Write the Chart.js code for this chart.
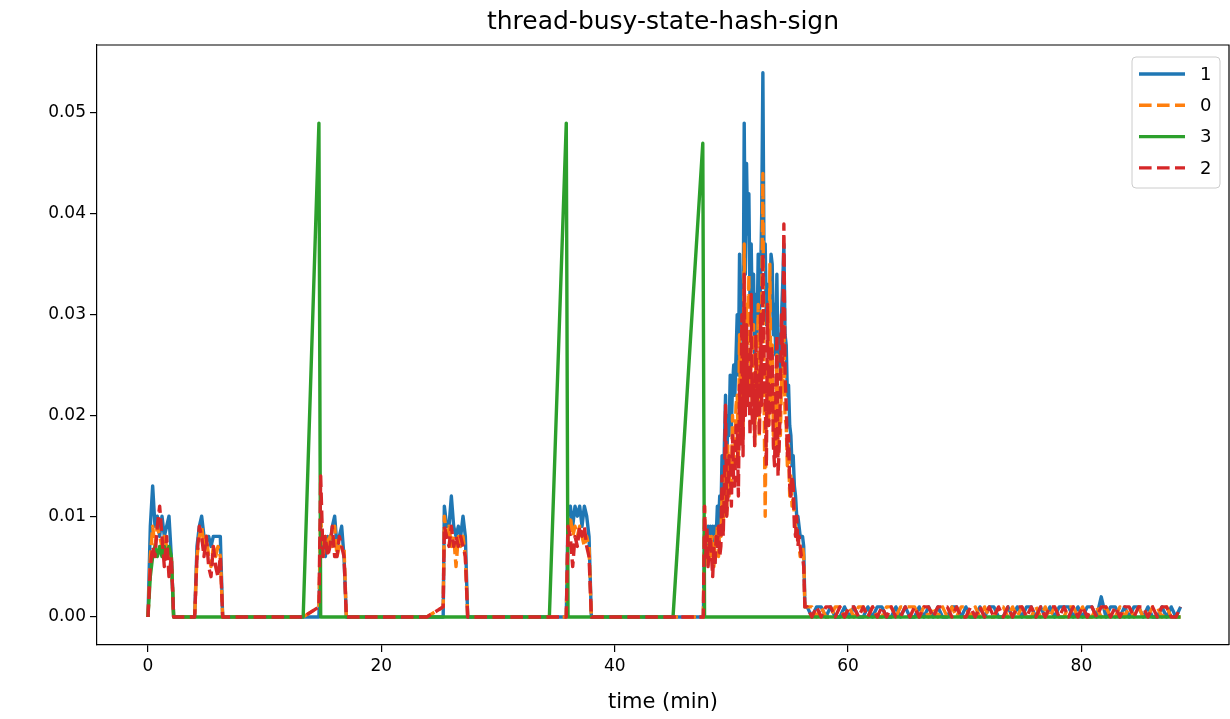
<!DOCTYPE html>
<html lang="en">
<head>
  <meta charset="UTF-8">
  <title>thread-busy-state-hash-sign</title>
  <style>
    html, body { margin: 0; padding: 0; background: #fff; }
    #chart { display: block; }
  </style>
</head>
<body>
  <canvas id="chart" width="1230" height="719"></canvas>

  <script src="https://cdn.jsdelivr.net/npm/chart.js@4"></script>
  <script>
    // busy share per thread, stored in thousandths (plotted as value / 1000)
    const timeMin = [
      0, 0.2, 0.4, 0.6, 0.8, 1.0, 1.2, 1.4, 1.6, 1.8, 2.0, 2.2,
      4.0, 4.2, 4.4, 4.6, 4.8, 5.0, 5.2, 5.4, 5.6, 5.8, 6.0, 6.2, 6.4,
      13.3, 14.65, 14.8, 15.0, 15.2, 15.4, 15.6, 15.8, 16.0, 16.2, 16.4, 16.6, 16.8, 17.0,
      23.9, 25.3, 25.4, 25.6, 25.8, 26.0, 26.2, 26.4, 26.6, 26.8, 27.0, 27.2, 27.4,
      35.85, 36.0, 36.2, 36.4, 36.6, 36.8, 37.0, 37.2, 37.4, 37.6, 37.8, 38.0,
      47.6,
      47.7, 47.8, 47.9, 48.0, 48.1, 48.2, 48.3, 48.4, 48.5, 48.6,
      48.7, 48.8, 48.9, 49.0, 49.1, 49.2, 49.3, 49.4, 49.5, 49.6,
      49.7, 49.8, 49.9, 50.0, 50.1, 50.2, 50.3, 50.4, 50.5, 50.6,
      50.7, 50.8, 50.9, 51.0, 51.1, 51.2, 51.3, 51.4, 51.5, 51.6,
      51.7, 51.8, 51.9, 52.0, 52.1, 52.2, 52.3, 52.4, 52.5, 52.6,
      52.7, 52.8, 52.9, 53.0, 53.1, 53.2, 53.3, 53.4, 53.5, 53.6,
      53.7, 53.8, 53.9, 54.0, 54.1, 54.2, 54.3, 54.4, 54.5, 54.6,
      54.7, 54.8, 54.9, 55.0, 55.1, 55.2, 55.3, 55.4, 55.5, 55.6,
      55.7, 55.8, 55.9, 56.0, 56.1, 56.2, 56.3,
      56.5, 56.9, 57.3, 57.7, 58.1, 58.5, 58.9, 59.3, 59.7, 60.1,
      60.5, 60.9, 61.3, 61.7, 62.1, 62.5, 62.9, 63.3, 63.7, 64.1,
      64.5, 64.9, 65.3, 65.7, 66.1, 66.5, 66.9, 67.3, 67.7, 68.1,
      68.5, 68.9, 69.3, 69.7, 70.1, 70.5, 70.9, 71.3, 71.7, 72.1,
      72.5, 72.9, 73.3, 73.7, 74.1, 74.5, 74.9, 75.3, 75.7, 76.1,
      76.5, 76.9, 77.3, 77.7, 78.1, 78.5, 78.9, 79.3, 79.7, 80.1,
      80.5, 80.9, 81.3, 81.7, 82.1, 82.5, 82.9, 83.3, 83.7, 84.1,
      84.5, 84.9, 85.3, 85.7, 86.1, 86.5, 86.9, 87.3, 87.7, 88.1,
      88.5
    ];

    const thread1 = [
      0, 9, 13, 9, 10, 8, 10, 8, 9, 10, 6, 0,
      0, 7, 9, 10, 8, 8, 8, 7, 8, 8, 8, 8, 0,
      0, 0, 8, 7, 6, 8, 7, 9, 10, 7, 8, 9, 6, 0,
      0, 0, 11, 9, 9, 12, 9, 8, 9, 8, 10, 8, 0,
      0, 10, 11, 9, 11, 10, 11, 9, 11, 10, 8, 0,
      0,
      9, 7, 8, 9, 7, 9, 8, 9, 7, 9,
      8, 11, 9, 12, 10, 16, 11, 17, 22, 15,
      20, 18, 24, 19, 23, 25, 22, 26, 30, 24,
      36, 29, 33, 27, 49, 34, 45, 38, 42, 31,
      37, 29, 34, 26, 32, 28, 36, 30, 33, 40,
      54, 35, 37, 29, 33, 27, 32, 36, 35, 28,
      31, 26, 34, 25, 28, 24, 30, 33, 37, 28,
      27, 22, 23, 19, 18, 15, 16, 13, 12, 10,
      10, 9, 8, 8, 8, 7, 1,
      1, 0, 1, 1, 0, 1, 0, 0, 1, 0,
      1, 0, 0, 1, 0, 1, 1, 0, 0, 1,
      0, 1, 0, 0, 1, 0, 1, 0, 1, 0,
      0, 1, 1, 0, 1, 0, 0, 1, 0, 1,
      1, 0, 0, 1, 0, 1, 0, 1, 1, 0,
      1, 0, 1, 0, 1, 1, 1, 0, 1, 0,
      1, 1, 0, 2, 0, 1, 1, 0, 1, 0,
      1, 1, 0, 1, 0, 0, 1, 0, 1, 0,
      1
    ];

    const thread0 = [
      0, 6, 9, 7, 9, 8, 7, 8, 7, 6, 6, 0,
      0, 6, 8, 9, 7, 8, 6, 5, 7, 6, 7, 6, 0,
      0, 1, 10, 6, 8, 7, 8, 7, 9, 6, 7, 7, 7, 0,
      0, 1, 10, 8, 9, 7, 8, 5, 8, 7, 8, 6, 0,
      0, 9, 10, 8, 9, 8, 9, 8, 7, 8, 7, 0,
      0,
      11, 6, 7, 5, 8, 6, 8, 7, 5, 8,
      7, 9, 6, 9, 8, 12, 9, 13, 15, 10,
      17, 12, 16, 13, 20, 15, 17, 21, 22, 16,
      28, 19, 26, 18, 37, 23, 31, 25, 34, 22,
      27, 20, 29, 17, 25, 21, 31, 18, 27, 30,
      44, 22, 10, 24, 25, 19, 35, 21, 27, 18,
      22, 17, 26, 16, 20, 18, 24, 22, 29, 20,
      19, 15, 17, 12, 14, 11, 12, 10, 9, 8,
      8, 7, 6, 7, 7, 6, 1,
      1, 1, 0, 1, 0, 0, 1, 1, 0, 1,
      0, 1, 1, 0, 1, 0, 0, 1, 1, 0,
      1, 1, 1, 1, 0, 1, 0, 1, 0, 1,
      0, 1, 0, 1, 1, 0, 1, 0, 1, 0,
      0, 1, 1, 0, 1, 0, 1, 0, 0, 1,
      0, 1, 0, 1, 0, 0, 1, 1, 0, 1,
      0, 0, 1, 0, 1, 0, 0, 1, 0, 1,
      0, 1, 0, 0, 1, 1, 0, 1, 0, 0,
      0
    ];

    const thread2 = [
      0, 5, 7, 6, 9, 11, 8, 5, 8, 4, 6, 0,
      0, 6, 9, 8, 6, 8, 5, 4, 7, 5, 4, 6, 0,
      0, 1, 14, 6, 8, 6, 7, 9, 6, 6, 8, 7, 6, 0,
      0, 1, 9, 8, 7, 9, 7, 8, 7, 8, 7, 6, 0,
      0, 9, 8, 5, 8, 7, 9, 8, 9, 7, 6, 0,
      0,
      11, 6, 9, 5, 7, 8, 6, 4, 7, 5,
      8, 7, 9, 6, 7, 14, 8, 13, 21, 10,
      12, 16, 15, 11, 18, 13, 13, 19, 19, 12,
      23, 17, 30, 16, 34, 20, 29, 21, 26, 18,
      32, 19, 23, 17, 28, 20, 24, 18, 30, 21,
      36, 25, 22, 15, 31, 19, 21, 27, 26, 17,
      15, 21, 28, 14, 17, 22, 30, 25, 39, 24,
      21, 16, 18, 13, 12, 14, 13, 9, 8, 10,
      7, 8, 7, 6, 6, 5, 1,
      1, 0, 1, 0, 1, 1, 0, 1, 0, 1,
      1, 0, 1, 0, 1, 0, 1, 0, 1, 0,
      0, 1, 0, 1, 0, 1, 1, 0, 1, 1,
      1, 0, 1, 0, 0, 1, 0, 1, 0, 1,
      0, 1, 0, 1, 0, 1, 1, 0, 1, 0,
      1, 0, 1, 1, 0, 1, 0, 1, 0, 1,
      0, 1, 0, 1, 1, 0, 1, 0, 1, 1,
      0, 1, 1, 0, 1, 0, 1, 1, 0, 0,
      1
    ];

    // thread 3 is sampled much more sparsely
    const thread3Time = [0, 0.2, 0.4, 0.6, 0.8, 1.0, 1.2, 1.4, 1.6, 1.8, 2.0, 2.2,
      13.3, 14.65, 14.8, 34.4, 35.85, 36.0, 45.0, 47.55, 47.7, 88.5];
    const thread3 = [0, 4, 6, 7, 6, 7, 6, 7, 6, 7, 6, 0,
      0, 49, 0, 0, 49, 0, 0, 47, 0, 0];

    const xTicks = [0, 20, 40, 60, 80];
    const yTicks = [0, 0.01, 0.02, 0.03, 0.04, 0.05];
    const seriesNames = ['1', '0', '3', '2'];
    const seriesColors = ['#1f77b4', '#ff7f0e', '#2ca02c', '#d62728'];

    if (thread1.length !== timeMin.length || thread0.length !== timeMin.length || thread2.length !== timeMin.length) {
      console.warn('length mismatch', timeMin.length, thread1.length, thread0.length, thread2.length);
    }

    const FONT = 'DejaVu Sans';
    const LW = 3.4;
    const DASH = [12.6, 5.4];

    function pts(times, vals) {
      return times.map((t, i) => ({ x: t, y: vals[i] / 1000 }));
    }

    function makeSet(idx, times, vals, dashed, order) {
      return {
        label: seriesNames[idx],
        data: pts(times, vals),
        borderColor: seriesColors[idx],
        backgroundColor: seriesColors[idx],
        borderWidth: LW,
        borderDash: dashed ? DASH : [],
        borderCapStyle: 'butt',
        borderJoinStyle: 'round',
        pointRadius: 0,
        tension: 0,
        fill: false,
        order: order
      };
    }

    // title, top/right spines and the in-axes legend
    const decorations = {
      id: 'decorations',
      afterDraw(chart) {
        const { ctx, chartArea: a } = chart;
        ctx.save();
        ctx.strokeStyle = '#000';
        ctx.lineWidth = 1.2;
        ctx.beginPath();
        ctx.moveTo(a.left, a.top);
        ctx.lineTo(a.right, a.top);
        ctx.lineTo(a.right, a.bottom);
        ctx.stroke();

        ctx.fillStyle = '#000';
        ctx.font = '25px "' + FONT + '"';
        ctx.textAlign = 'center';
        ctx.textBaseline = 'middle';
        ctx.fillText('thread-busy-state-hash-sign', (a.left + a.right) / 2, 22);

        // legend box
        const bw = 88, bh = 131;
        const bx = a.right - 9 - bw, by = a.top + 12;
        ctx.beginPath();
        ctx.roundRect(bx, by, bw, bh, 4);
        ctx.fillStyle = 'rgba(255,255,255,0.8)';
        ctx.fill();
        ctx.strokeStyle = '#cccccc';
        ctx.lineWidth = 1;
        ctx.stroke();

        chart.data.datasets.forEach((ds, i) => {
          const y = by + 17 + i * 31.3;
          ctx.beginPath();
          ctx.strokeStyle = ds.borderColor;
          ctx.lineWidth = LW;
          ctx.lineCap = 'butt';
          ctx.setLineDash(ds.borderDash);
          ctx.moveTo(bx + 7, y);
          ctx.lineTo(bx + 53, y);
          ctx.stroke();
          ctx.setLineDash([]);
          ctx.fillStyle = '#000';
          ctx.font = '18px "' + FONT + '"';
          ctx.textAlign = 'left';
          ctx.fillText(ds.label, bx + 68, y + 1);
        });
        ctx.restore();
      }
    };

    const tickFont = { family: FONT, size: 17 };

    new Chart(document.getElementById('chart'), {
      type: 'line',
      data: {
        datasets: [
          makeSet(0, timeMin, thread1, false, 4),
          makeSet(1, timeMin, thread0, true, 3),
          makeSet(2, thread3Time, thread3, false, 2),
          makeSet(3, timeMin, thread2, true, 1)
        ]
      },
      options: {
        responsive: false,
        animation: false,
        devicePixelRatio: 1,
        layout: { padding: { top: 45, right: 1, left: 0, bottom: 0 } },
        plugins: {
          legend: { display: false },
          tooltip: { enabled: false },
          title: { display: false }
        },
        scales: {
          x: {
            type: 'linear',
            min: -4.37,
            max: 92.65,
            afterBuildTicks: s => { s.ticks = xTicks.map(v => ({ value: v })); },
            afterFit: s => { s.height = 74; },
            grid: { drawOnChartArea: false, drawTicks: true, tickLength: 7, color: '#000', lineWidth: 1.2 },
            border: { display: true, color: '#000', width: 1.2 },
            ticks: { color: '#000', font: tickFont, padding: 4, maxRotation: 0, callback: v => String(v) },
            title: { display: true, text: 'time (min)', color: '#000', font: { family: FONT, size: 21 }, padding: { top: 0, bottom: 4 } }
          },
          y: {
            type: 'linear',
            min: -0.00278,
            max: 0.05675,
            afterBuildTicks: s => { s.ticks = yTicks.map(v => ({ value: v })); },
            afterFit: s => { s.width = 97; },
            grid: { drawOnChartArea: false, drawTicks: true, tickLength: 7, color: '#000', lineWidth: 1.2 },
            border: { display: true, color: '#000', width: 1.2 },
            ticks: { color: '#000', font: tickFont, padding: 4, callback: v => v.toFixed(2) }
          }
        }
      },
      plugins: [decorations]
    });
  </script>
</body>
</html>
